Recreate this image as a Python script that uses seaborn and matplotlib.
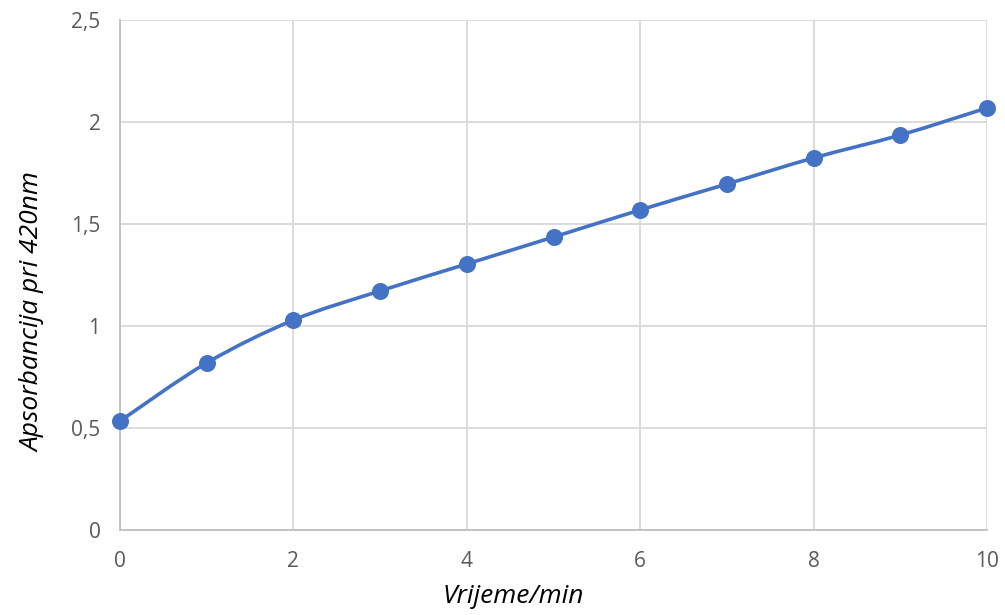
import numpy as np
import pandas as pd
import seaborn as sns
import matplotlib.pyplot as plt
from matplotlib.path import Path
from matplotlib.patches import PathPatch

# data
vrijeme = [0, 1, 2, 3, 4, 5, 6, 7, 8, 9, 10]
apsorbancija = [0.534, 0.819, 1.029, 1.172, 1.304, 1.436, 1.569, 1.696, 1.824, 1.936, 2.069]
x_ticks = [0, 2, 4, 6, 8, 10]
y_ticks = [0, 0.5, 1, 1.5, 2, 2.5]
y_ticklabels = ['0', '0,5', '1', '1,5', '2', '2,5']

df = pd.DataFrame({'t': vrijeme, 'A': apsorbancija})

sns.set_style('white')
plt.rcParams['font.family'] = ['Open Sans', 'DejaVu Sans']

blue = '#4472C4'
fig = plt.figure(figsize=(10.05, 6.15), dpi=100)
ax = fig.add_axes([120 / 1005, 85 / 615, 867 / 1005, 510 / 615])

# smoothed line (Excel-style bezier through the points)
pts = df[['t', 'A']].to_numpy(dtype=float)
verts = [tuple(pts[0])]
codes = [Path.MOVETO]
for i in range(len(pts) - 1):
    p0 = pts[max(i - 1, 0)]
    p1 = pts[i]
    p2 = pts[i + 1]
    p3 = pts[min(i + 2, len(pts) - 1)]
    c1 = p1 + (p2 - p0) / 6
    c2 = p2 - (p3 - p1) / 6
    verts += [tuple(c1), tuple(c2), tuple(p2)]
    codes += [Path.CURVE4] * 3
ax.add_patch(PathPatch(Path(verts, codes), facecolor='none', edgecolor=blue,
                       lw=2.6, zorder=3, capstyle='round', joinstyle='round'))

sns.scatterplot(data=df, x='t', y='A', ax=ax, color=blue, s=150,
                edgecolor=blue, linewidth=0, zorder=4, clip_on=False)

ax.set_xlim(0, 10)
ax.set_ylim(0, 2.5)
ax.set_xticks(x_ticks)
ax.set_yticks(y_ticks)
ax.set_yticklabels(y_ticklabels)
ax.grid(True, color='#d9d9d9', lw=1.3)
ax.set_axisbelow(True)
for side in ['top', 'right']:
    ax.spines[side].set_visible(False)
for side in ['left', 'bottom']:
    ax.spines[side].set_color('#bfbfbf')
    ax.spines[side].set_linewidth(1.3)
ax.tick_params(axis='both', length=0, labelsize=15, colors='#595959')
ax.tick_params(axis='x', pad=15)
ax.tick_params(axis='y', pad=14)

# axis titles are centred on the whole chart, not the plot area
ax.set_xlabel('Vrijeme/min', fontsize=19, style='italic', color='black')
ax.set_ylabel('Apsorbancija pri 420nm', fontsize=19, style='italic', color='black')
ax.xaxis.set_label_coords(0.454, -0.105)
ax.yaxis.set_label_coords(-0.086, 0.427)

fig.savefig('out.png', dpi=100)
